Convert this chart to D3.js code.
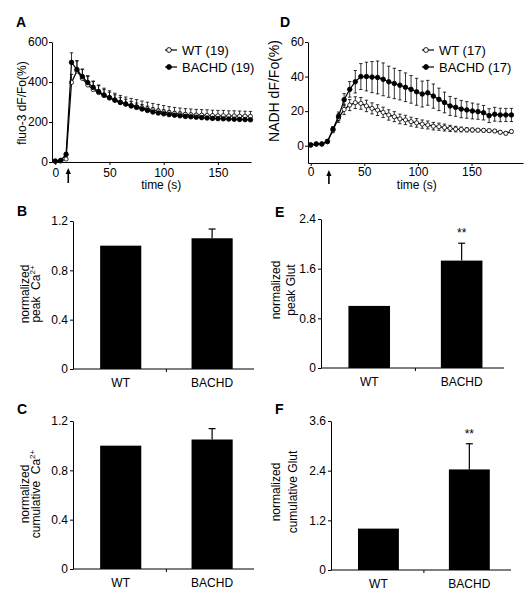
<!DOCTYPE html>
<html><head><meta charset="utf-8">
<script src="https://cdn.jsdelivr.net/npm/d3@7"></script>
<style>
body{margin:0;background:#fff}
svg{display:block}
text{font-family:"Liberation Sans",Arial,Helvetica,sans-serif;fill:#000}
</style>
</head><body>
<svg id="c" width="526" height="600"></svg>
<script>
// ---------- data ----------
const timeA = [0,5,10,15,20,25,30,35,40,45,50,55,60,65,70,75,80,85,90,95,100,105,110,115,120,125,130,135,140,145,150,155,160,165,170,175,180];
const wtA = [3,5,15,398,455,418,385,362,347,332,320,308,298,290,283,277,271,265,260,255,250,246,243,240,238,236,235,234,233,232,231,231,230,230,229,229,228];
const wtAErr = [3,3,6,40,50,45,42,40,38,37,36,36,35,35,35,35,34,34,33,33,32,31,30,30,29,29,28,28,28,27,27,27,26,26,26,25,25];
const bachdA = [5,8,38,498,462,427,397,373,352,335,322,310,298,290,280,273,265,258,250,245,241,237,234,231,228,226,224,222,220,218,217,216,215,214,213,212,211];
const bachdAErr = [2,3,10,48,45,38,35,32,30,28,27,26,25,24,23,22,22,21,21,20,20,20,19,19,19,18,18,18,18,17,17,17,17,17,16,16,16];

const timeD = [0,5.2,10.4,15.6,20.8,26,31.2,36.4,41.6,46.8,52,57.2,62.4,67.6,72.8,78,83.2,88.4,93.6,98.8,104,109.2,114.4,119.6,124.8,130,135.2,140.4,145.6,150.8,156,161.2,166.4,171.6,176.8,182,187.2];
const wtD = [0.3,1,1,2.3,9,16,21,23.5,24.9,24.5,23,21.6,20.6,19.3,17.8,16.8,15.5,14.9,13.9,13.2,12.5,12,11.3,11,10.5,10,9.6,9.4,9.2,9.1,9,8.9,8.7,8.5,7.8,7.2,8.2];
const wtDErr = [0.3,0.5,0.5,0.8,1.5,2.5,3,3.2,3.4,3.4,3.3,3.2,3.1,3,3,2.9,2.8,2.7,2.6,2.5,2.4,2.3,2.2,2.1,2,1.8,1.6,1.4,1.2,1.1,1,1,0.9,0.9,0.9,0.9,0.9];
const bachdD = [0.5,1,1,2.5,9.6,17,26.6,32.6,37,40,40,39.7,39.5,38.4,37,36,35,33.8,32.6,31.2,29.9,30.6,28.7,26.8,25,23,22.2,21.2,20.7,20.1,19.7,19.1,17.4,18.2,17.8,17.8,17.8];
const bachdDErr = [0.5,0.5,0.5,0.8,1.5,2.5,3.5,4.5,6.5,7.5,8.3,9,9.5,9.5,9,8.8,8.5,8.3,8,7.8,7.5,7.2,7,6.5,6,5.5,5.2,5,4.8,4.6,4.4,4.2,4,4,3.9,3.8,3.8];

const groups = ["WT", "BACHD"];
const peakCa = [1.0, 1.06];        const peakCaErr = [0, 0.075];
const cumCa = [1.0, 1.05];         const cumCaErr = [0, 0.088];
const peakGlut = [1.0, 1.73];      const peakGlutErr = [0, 0.28];
const cumGlut = [1.0, 2.43];       const cumGlutErr = [0, 0.62];
const sigGlut = ["", "**"];

const ticksAy = [0, 200, 400, 600];
const ticksDy = [0, 20, 40, 60];
const ticksTime = [0, 50, 100, 150];
const ticksCa = [0, 0.4, 0.8, 1.2];
const ticksPeakGlut = [0, 0.8, 1.6, 2.4];
const ticksCumGlut = [0, 1.2, 2.4, 3.6];
const stimA = 12, stimD = 17;

// ---------- drawing ----------
const svg = d3.select("#c");

function styleAxis(sel, fs) {
  sel.selectAll("path.domain").attr("stroke", "#000").attr("stroke-width", 1);
  sel.selectAll(".tick line").attr("stroke", "#000");
  sel.selectAll(".tick text").attr("font-size", fs || 12)
     .attr("font-family", '"Liberation Sans",Arial,sans-serif').attr("fill", "#000");
}

function title(x, y, t) {
  svg.append("text").attr("x", x).attr("y", y).attr("font-size", 14)
     .attr("font-weight", "bold").text(t);
}

function vlabel(x, y, t, fs) {
  svg.append("text").attr("transform", `translate(${x},${y}) rotate(-90)`)
     .attr("text-anchor", "middle").attr("font-size", fs || 12).text(t);
}

function seriesPanel(o) {
  const g = svg.append("g");
  const x = d3.scaleLinear().domain(o.xDomain).range(o.xRange);
  const y = d3.scaleLinear().domain(o.yDomain).range(o.yRange);
  g.append("g").attr("transform", `translate(${o.xRange[0]},0)`)
    .call(d3.axisLeft(y).tickValues(o.yTicks).tickSize(3).tickSizeOuter(0).tickPadding(1).tickFormat(d3.format("d")))
    .call(s => styleAxis(s));
  g.append("g").attr("transform", `translate(0,${o.yRange[0]})`)
    .call(d3.axisBottom(x).tickValues(ticksTime).tickSize(3).tickSizeOuter(0).tickPadding(o.xPad).tickFormat(d3.format("d")))
    .call(s => styleAxis(s));

  const series = [
    {v: o.wt, e: o.wtErr, open: true},
    {v: o.bachd, e: o.bachdErr, open: false}
  ];
  const cap = 1.7;
  series.forEach(s => {
    const eg = g.append("g").attr("stroke", "#000").attr("stroke-width", 0.8);
    o.time.forEach((t, i) => {
      const xx = x(t), y1 = y(s.v[i] + s.e[i]);
      const y0 = o.symmetric ? y(s.v[i] - s.e[i]) : y(s.v[i]);
      eg.append("line").attr("x1", xx).attr("x2", xx).attr("y1", y0).attr("y2", y1);
      eg.append("line").attr("x1", xx - cap).attr("x2", xx + cap).attr("y1", y1).attr("y2", y1);
      if (o.symmetric) eg.append("line").attr("x1", xx - cap).attr("x2", xx + cap).attr("y1", y0).attr("y2", y0);
    });
  });
  const line = d3.line().x((d, i) => x(o.time[i])).y(d => y(d));
  series.forEach(s => {
    g.append("path").datum(s.v).attr("d", line).attr("fill", "none")
      .attr("stroke", "#000").attr("stroke-width", 1.2);
    g.selectAll(null).data(s.v).enter().append("circle")
      .attr("cx", (d, i) => x(o.time[i])).attr("cy", d => y(d)).attr("r", s.open ? 2.1 : 2.3)
      .attr("fill", s.open ? "#fff" : "#000").attr("stroke", "#000").attr("stroke-width", 0.8);
  });

  // stimulus arrow
  const ax = x(o.stim);
  g.append("line").attr("x1", ax).attr("x2", ax).attr("y1", o.arrow[1]).attr("y2", o.arrow[0] + 4)
    .attr("stroke", "#000").attr("stroke-width", 1.6);
  g.append("path").attr("d", `M${ax},${o.arrow[0]} L${ax - 2.6},${o.arrow[0] + 6} L${ax + 2.6},${o.arrow[0] + 6} Z`).attr("fill", "#000");

  // legend
  o.legend.forEach((lab, k) => {
    const ly = o.legendY + k * 17;
    g.append("line").attr("x1", o.legendX).attr("x2", o.legendX + 12).attr("y1", ly).attr("y2", ly)
      .attr("stroke", "#000").attr("stroke-width", 1.2);
    g.append("circle").attr("cx", o.legendX + 4).attr("cy", ly).attr("r", 2.4)
      .attr("fill", k === 0 ? "#fff" : "#000").attr("stroke", "#000").attr("stroke-width", 0.9);
    g.append("text").attr("x", o.legendX + 17).attr("y", ly).attr("dy", "0.35em")
      .attr("font-size", 13).text(lab);
  });
  g.append("text").attr("x", (x(0) + x(o.xDomain[1])) / 2 + o.tlabDx).attr("y", 189)
    .attr("text-anchor", "middle").attr("font-size", 12).text("time (s)");
}

seriesPanel({
  time: timeA, wt: wtA, wtErr: wtAErr, bachd: bachdA, bachdErr: bachdAErr,
  xDomain: [-3, 180.5], xRange: [52, 251], yDomain: [0, 600], yRange: [162, 42],
  yTicks: ticksAy, xPad: 3, symmetric: false, stim: stimA, arrow: [168, 183],
  legend: ["WT (19)", "BACHD (19)"], legendX: 165, legendY: 50, tlabDx: 8
});
seriesPanel({
  time: timeD, wt: wtD, wtErr: wtDErr, bachd: bachdD, bachdErr: bachdDErr,
  xDomain: [-2.5, 198], xRange: [308, 523], yDomain: [-10, 60], yRange: [163, 42],
  yTicks: ticksDy, xPad: 1, symmetric: true, stim: stimD, arrow: [170, 184],
  legend: ["WT (17)", "BACHD (17)"], legendX: 422, legendY: 50, tlabDx: 0
});

title(16, 27, "A");
title(280, 27, "D");
vlabel(26, 103, "fluo-3 dF/Fo(%)", 12);
vlabel(279, 91, "NADH dF/Fo(%)", 14);

function barPanel(o) {
  const g = svg.append("g");
  const x = d3.scaleBand().domain(groups).range(o.xRange).paddingInner(0.55).paddingOuter(0.265).align(0.56);
  const y = d3.scaleLinear().domain([0, o.yTicks[o.yTicks.length - 1]]).range(o.yRange);
  g.append("g").attr("transform", `translate(${o.xRange[0]},0)`)
    .call(d3.axisLeft(y).tickValues(o.yTicks).tickSize(3).tickSizeOuter(0).tickPadding(2)
      .tickFormat(d => d === 0 ? "0" : d3.format(".1f")(d)))
    .call(s => styleAxis(s));
  g.append("line").attr("x1", o.xRange[0]).attr("x2", o.xRange[1]).attr("y1", y(0)).attr("y2", y(0))
    .attr("stroke", "#000");
  const mid = (x("WT") + x.bandwidth() + x("BACHD")) / 2;
  g.append("line").attr("x1", mid).attr("x2", mid).attr("y1", y(0)).attr("y2", y(0) + 3).attr("stroke", "#000");

  g.selectAll(null).data(o.vals).enter().append("rect")
    .attr("x", (d, i) => x(groups[i])).attr("width", x.bandwidth())
    .attr("y", d => y(d)).attr("height", d => y(0) - y(d)).attr("fill", "#000");
  o.vals.forEach((v, i) => {
    if (!o.errs[i]) return;
    const cx = x(groups[i]) + x.bandwidth() / 2, yt = y(v + o.errs[i]);
    g.append("line").attr("x1", cx).attr("x2", cx).attr("y1", y(v)).attr("y2", yt).attr("stroke", "#000").attr("stroke-width", 1.2);
    g.append("line").attr("x1", cx - 3.5).attr("x2", cx + 3.5).attr("y1", yt).attr("y2", yt).attr("stroke", "#000").attr("stroke-width", 1.2);
    if (o.sig && o.sig[i]) {
      g.append("text").attr("x", cx).attr("y", yt - 6).attr("text-anchor", "middle").attr("font-size", 12).text(o.sig[i]);
    }
  });
  groups.forEach(gname => {
    g.append("text").attr("x", x(gname) + x.bandwidth() / 2).attr("y", y(0) + 18)
      .attr("text-anchor", "middle").attr("font-size", 12).text(gname);
  });
  // y label lines
  o.ylab.forEach((l, k) => {
    const t = g.append("text").attr("transform", `translate(${l.x},${o.ylabY}) rotate(-90)`)
      .attr("text-anchor", "middle").attr("font-size", 12).style("white-space", "pre");
    t.append("tspan").text(l.t);
    if (l.sup) t.append("tspan").attr("font-size", 8).attr("dy", -5).text(l.sup);
  });
  title(o.title[0], o.title[1], o.title[2]);
}

barPanel({ vals: peakCa, errs: peakCaErr, yTicks: ticksCa, xRange: [73, 254], yRange: [369, 221],
  ylab: [{x: 29, t: "normalized"}, {x: 40, t: "peak  Ca", sup: "2+"}], ylabY: 294, title: [17, 216, "B"] });
barPanel({ vals: cumCa, errs: cumCaErr, yTicks: ticksCa, xRange: [73, 254], yRange: [569, 421],
  ylab: [{x: 29, t: "normalized"}, {x: 40, t: "cumulative  Ca", sup: "2+"}], ylabY: 494, title: [17, 414, "C"] });
barPanel({ vals: peakGlut, errs: peakGlutErr, yTicks: ticksPeakGlut, xRange: [321, 504], yRange: [368, 219],
  ylab: [{x: 280, t: "normalized"}, {x: 295, t: "peak Glut"}], ylabY: 290, sig: sigGlut, title: [275, 217, "E"] });
barPanel({ vals: cumGlut, errs: cumGlutErr, yTicks: ticksCumGlut, xRange: [331, 511], yRange: [570, 421],
  ylab: [{x: 280, t: "normalized"}, {x: 297, t: "cumulative Glut"}], ylabY: 492, sig: sigGlut, title: [275, 414, "F"] });
</script>
</body></html>
